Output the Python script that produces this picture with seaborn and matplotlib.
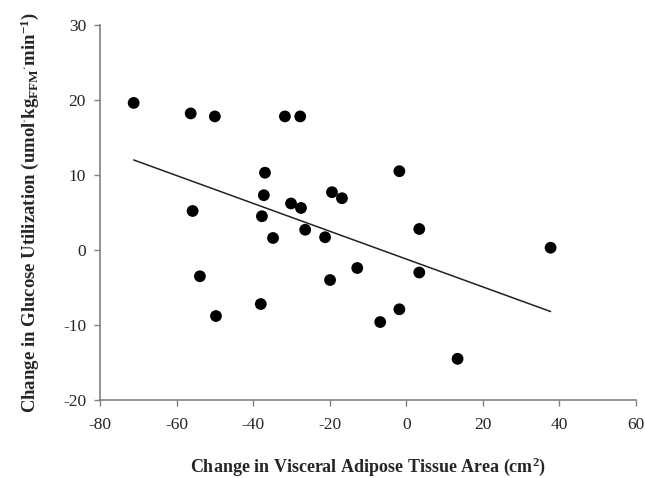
import matplotlib
matplotlib.use("Agg")
import matplotlib.pyplot as plt
import pandas as pd
import seaborn as sns

# change in visceral adipose tissue area (cm^2)
vat_change = [
    -71.2, -56.3, -50.0, -31.7, -27.7, -36.9, -37.2, -37.7, -30.1, -27.5,
    -26.4, -34.8, -55.8, -19.4, -16.8, -21.2, -1.8, 3.4, -12.8, -19.9,
    -53.9, -38.0, -49.7, -6.8, -1.8, 3.4, 13.4, 37.7,
]
# change in glucose utilization
glucose_change = [
    19.6, 18.2, 17.8, 17.8, 17.8, 10.3, 7.3, 4.5, 6.2, 5.6,
    2.7, 1.6, 5.2, 7.7, 6.9, 1.7, 10.5, 2.8, -2.4, -4.0,
    -3.5, -7.2, -8.8, -9.6, -7.9, -3.0, -14.5, 0.3,
]

# least-squares line as drawn in the figure (end points)
fit_x = [-71.2, 37.7]
fit_y = [12.0, -8.2]

x_ticks = [-80, -60, -40, -20, 0, 20, 40, 60]
y_ticks = [-20, -10, 0, 10, 20, 30]

df = pd.DataFrame({"vat": vat_change, "glu": glucose_change})
fit = pd.DataFrame({"vat": fit_x, "glu": fit_y})

sns.set_theme(style="ticks")
plt.rcParams["font.family"] = ["Liberation Serif", "DejaVu Serif"]
plt.rcParams["axes.unicode_minus"] = False
plt.rcParams["mathtext.fontset"] = "custom"
plt.rcParams["mathtext.rm"] = "Liberation Serif:bold"
plt.rcParams["mathtext.it"] = "Liberation Serif:bold"
plt.rcParams["mathtext.bf"] = "Liberation Serif:bold"
plt.rcParams["mathtext.default"] = "rm"

fig = plt.figure(figsize=(6.45, 4.78), dpi=100)
ax = fig.add_axes([0.155, 0.163, 0.831, 0.785])

sns.lineplot(data=fit, x="vat", y="glu", ax=ax, color="#222222", linewidth=1.1)
sns.scatterplot(data=df, x="vat", y="glu", ax=ax, s=72, color="black",
                edgecolor="none", zorder=3)

ax.set_xlim(-80, 60)
ax.set_ylim(-20, 30)
ax.set_xticks(x_ticks)
ax.set_yticks(y_ticks)
ax.tick_params(axis="both", labelsize=12.5, length=4, width=1, color="#808080")
ax.tick_params(axis="x", pad=8)
ax.tick_params(axis="y", pad=6)
for s in ["top", "right"]:
    ax.spines[s].set_visible(False)
for s in ["left", "bottom"]:
    ax.spines[s].set_color("#808080")
    ax.spines[s].set_linewidth(1.2)

ax.set_xlabel(r"Change in Visceral Adipose Tissue Area (cm$^{2}$)",
              fontsize=13, fontweight="bold")
ax.set_ylabel(r"Change in Glucose Utilization (umol$^{\cdot}$kg$_{FFM}$$^{\cdot}$min$^{-1}$)",
              fontsize=13.5, fontweight="bold")
ax.xaxis.set_label_coords(0.5, -0.147)
ax.yaxis.set_label_coords(-0.110, 0.5)

fig.savefig("out.png", dpi=100)
